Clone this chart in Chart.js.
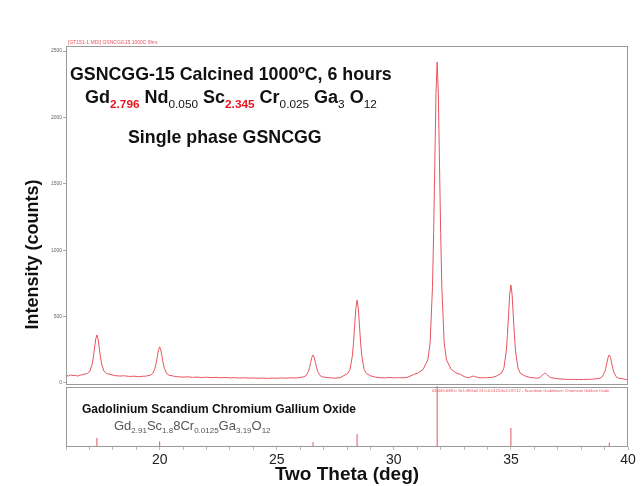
<!DOCTYPE html>
<html><head><meta charset="utf-8">
<script src="https://cdn.jsdelivr.net/npm/chart.js@4/dist/chart.umd.min.js"></script>
<style>html,body{margin:0;padding:0;background:#fff;}#wrap{width:641px;height:486px;}</style>
</head><body><div id="wrap"><canvas id="c" width="641" height="486"></canvas></div>
<script>
// ---- data ----
const twoTheta = [16.0,16.1,16.2,16.3,16.4,16.5,16.6,
16.72,16.92,17.02,17.12,17.17,17.22,17.27,17.32,17.37,17.42,17.47,17.52,17.62,17.72,17.92,
18.1,18.3,18.5,18.7,18.9,19.1,19.25,
19.4,19.6,19.7,19.8,19.85,19.9,19.95,20.0,20.05,20.1,20.15,20.2,20.3,20.4,20.6,
20.8,21.0,21.2,21.4,21.6,21.8,22.0,22.2,22.4,22.6,22.8,23.0,23.2,23.4,23.6,23.8,24.0,24.2,24.4,24.6,24.8,25.0,25.2,25.4,25.6,25.8,
25.95,26.15,26.25,26.35,26.4,26.45,26.5,26.55,26.6,26.65,26.7,26.75,26.85,26.95,27.15,
27.3,27.5,27.7,
27.83,28.03,28.13,28.23,28.28,28.33,28.38,28.43,28.48,28.53,28.58,28.63,28.73,28.83,29.03,
29.2,29.4,29.6,29.8,30.0,30.2,30.4,30.6,30.85,31.05,
31.25,31.45,31.55,31.65,31.7,31.75,31.8,31.85,31.9,31.95,32.0,32.05,32.15,32.25,32.45,
32.65,32.85,33.0,33.1,33.2,33.3,33.4,33.5,33.6,33.8,34.0,34.2,
34.4,34.6,34.7,34.8,34.85,34.9,34.95,35.0,35.05,35.1,35.15,35.2,35.3,35.4,35.6,
35.8,36.0,36.1,36.2,36.3,36.4,36.45,36.5,36.6,36.7,36.9,37.1,37.3,37.5,37.7,37.9,38.1,38.3,38.45,
38.6,38.8,38.9,39.0,39.05,39.1,39.15,39.2,39.25,39.3,39.35,39.4,39.5,39.6,39.8,39.9,40.0];
const counts = [58,52,60,55,57,52,58,
63,72,89,143,196,264,331,362,331,264,196,143,89,72,63,
55,52,54,49,51,47,50,
51,58,70,110,149,199,249,272,249,199,149,110,70,58,51,
46,44,46,42,44,41,43,40,42,39,41,38,40,37,39,36,38,35,37,34,37,35,38,36,39,37,
41,46,55,86,116,155,194,211,194,155,116,86,55,46,41,
38,36,39,
52,70,102,205,307,437,566,625,566,437,307,205,102,70,52,
44,40,38,41,38,40,38,43,64,76,
102,173,301,720,1133,1656,2179,2417,2179,1656,1133,720,301,173,102,
76,64,48,42,40,46,52,46,40,38,40,42,
53,74,112,236,358,513,668,738,668,513,358,236,112,74,53,
42,38,36,38,50,68,75,70,52,40,34,30,28,26,27,25,26,27,28,
31,36,46,79,111,152,193,211,193,152,111,79,46,36,31,26,25];
// reference pattern sticks (relative intensity %)
const refPos = [17.32, 20.0, 26.55, 28.43, 31.85, 35.0, 39.2];
const refInt = [15, 9, 8, 21, 100, 31, 7];
const xTickLabels = [20, 25, 30, 35, 40];
const yTickLabels = [0, 500, 1000, 1500, 2000, 2500];

const F = 'Arial, "Liberation Sans", sans-serif';
const RED = 'rgb(232,84,94)';

const scanData = twoTheta.map((x, i) => ({x: x, y: counts[i]}));
const stickData = [];
refPos.forEach((p, i) => { stickData.push({x: p, y: 0}, {x: p, y: refInt[i]}, {x: p, y: null}); });

function rich(ctx, x, y, runs) {
  runs.forEach(r => {
    ctx.font = (r.b ? 'bold ' : '') + r.s + 'px ' + F;
    ctx.fillStyle = r.c || '#111';
    ctx.fillText(r.t, x, y + (r.sub ? r.s * 0.4 : 0));
    x += ctx.measureText(r.t).width;
  });
}

const deco = {
  id: 'deco',
  afterDraw(chart) {
    const ctx = chart.ctx, a = chart.chartArea;
    const ys = chart.scales.y, y2 = chart.scales.y2;
    ctx.save();
    ctx.strokeStyle = '#9a9a9a'; ctx.lineWidth = 1;
    ctx.strokeRect(a.left + 0.5, ys.top + 0.5, a.right - a.left - 1, ys.bottom - ys.top - 2);
    ctx.strokeRect(a.left + 0.5, y2.top + 1.5, a.right - a.left - 1, y2.bottom - y2.top - 2);
    ctx.textBaseline = 'alphabetic'; ctx.textAlign = 'left';
    // small header texts
    ctx.font = '5px ' + F; ctx.fillStyle = RED;
    ctx.fillText('[GT151-1.MDI] GSNCGG15 1000C 6hrs', a.left + 2, ys.top - 2);
    ctx.font = '4px ' + F;
    ctx.fillText('04-009-6380> Sc1.88Gd2.91Cr0.0125Ga3.19O12 - Scandium Gadolinium Chromium Gallium Oxide', a.left + 366, y2.top + 6);
    // annotations
    const L = a.left, T = ys.top;
    rich(ctx, L + 4, T + 34, [{t: 'GSNCGG-15 Calcined 1000\u00baC, 6 hours', s: 17.8, b: true}]);
    rich(ctx, L + 19, T + 57, [
      {t: 'Gd', s: 18, b: true}, {t: '2.796', s: 11.8, b: true, c: '#e8141e', sub: true},
      {t: ' Nd', s: 18, b: true}, {t: '0.050', s: 11.8, sub: true},
      {t: ' Sc', s: 18, b: true}, {t: '2.345', s: 11.8, b: true, c: '#e8141e', sub: true},
      {t: ' Cr', s: 18, b: true}, {t: '0.025', s: 11.8, sub: true},
      {t: ' Ga', s: 18, b: true}, {t: '3', s: 11.8, sub: true},
      {t: ' O', s: 18, b: true}, {t: '12', s: 11.8, sub: true}]);
    rich(ctx, L + 62, T + 97, [{t: 'Single phase GSNCGG', s: 17.8, b: true}]);
    rich(ctx, L + 16, y2.top + 27, [{t: 'Gadolinium Scandium Chromium Gallium Oxide', s: 12, b: true}]);
    rich(ctx, L + 48, y2.top + 44, [
      {t: 'Gd', s: 13, c: '#555'}, {t: '2.91', s: 8, c: '#555', sub: true},
      {t: 'Sc', s: 13, c: '#555'}, {t: '1.8', s: 8, c: '#555', sub: true},
      {t: '8Cr', s: 13, c: '#555'}, {t: '0.0125', s: 8, c: '#555', sub: true},
      {t: 'Ga', s: 13, c: '#555'}, {t: '3.19', s: 8, c: '#555', sub: true},
      {t: 'O', s: 13, c: '#555'}, {t: '12', s: 8, c: '#555', sub: true}]);
    // y axis title
    ctx.translate(33, (ys.top + y2.bottom) / 2 + 8);
    ctx.rotate(-Math.PI / 2);
    ctx.textAlign = 'center'; ctx.textBaseline = 'middle';
    ctx.font = 'bold 18px ' + F; ctx.fillStyle = '#111';
    ctx.fillText('Intensity (counts)', 0, 0);
    ctx.restore();
  }
};

new Chart(document.getElementById('c'), {
  type: 'line',
  data: {
    datasets: [
      {data: scanData, yAxisID: 'y', borderColor: RED, borderWidth: 1, pointRadius: 0, tension: 0, fill: false},
      {data: stickData, yAxisID: 'y2', borderColor: RED, borderWidth: 1, pointRadius: 0, tension: 0, spanGaps: false, fill: false}
    ]
  },
  options: {
    responsive: false, animation: false,
    layout: {padding: {top: 46, right: 13, bottom: 0, left: 0}},
    plugins: {legend: {display: false}, tooltip: {enabled: false}},
    scales: {
      x: {
        type: 'linear', min: 16, max: 40, position: 'bottom',
        afterFit(s) { s.height = 39; },
        afterBuildTicks(s) { const t = []; for (let v = 16; v <= 40; v++) t.push({value: v}); s.ticks = t; },
        ticks: {
          autoSkip: false, maxRotation: 0, padding: 2,
          font: {family: F, size: 14}, color: '#222',
          callback: v => xTickLabels.includes(v) ? String(v) : ''
        },
        grid: {drawOnChartArea: false, tickLength: 3, color: '#bbb'},
        border: {display: false},
        title: {display: true, text: 'Two Theta (deg)', font: {family: F, size: 19, weight: 'bold'}, color: '#111', padding: {top: -6, bottom: 0}}
      },
      y2: {
        type: 'linear', position: 'left', stack: 'v', stackWeight: 61,
        min: 0, max: 100,
        afterFit(s) { s.width = 66; },
        ticks: {display: false},
        grid: {display: false},
        border: {display: false}
      },
      y: {
        type: 'linear', position: 'left', stack: 'v', stackWeight: 340,
        min: -23, max: 2538,
        afterFit(s) { s.width = 66; },
        afterBuildTicks(s) { s.ticks = yTickLabels.map(v => ({value: v})); },
        ticks: {font: {family: F, size: 5}, color: '#666', padding: 1, callback: v => String(v)},
        grid: {drawOnChartArea: false, tickLength: 3, color: '#aaa'},
        border: {display: false}
      }
    }
  },
  plugins: [deco]
});
</script>
</body></html>
